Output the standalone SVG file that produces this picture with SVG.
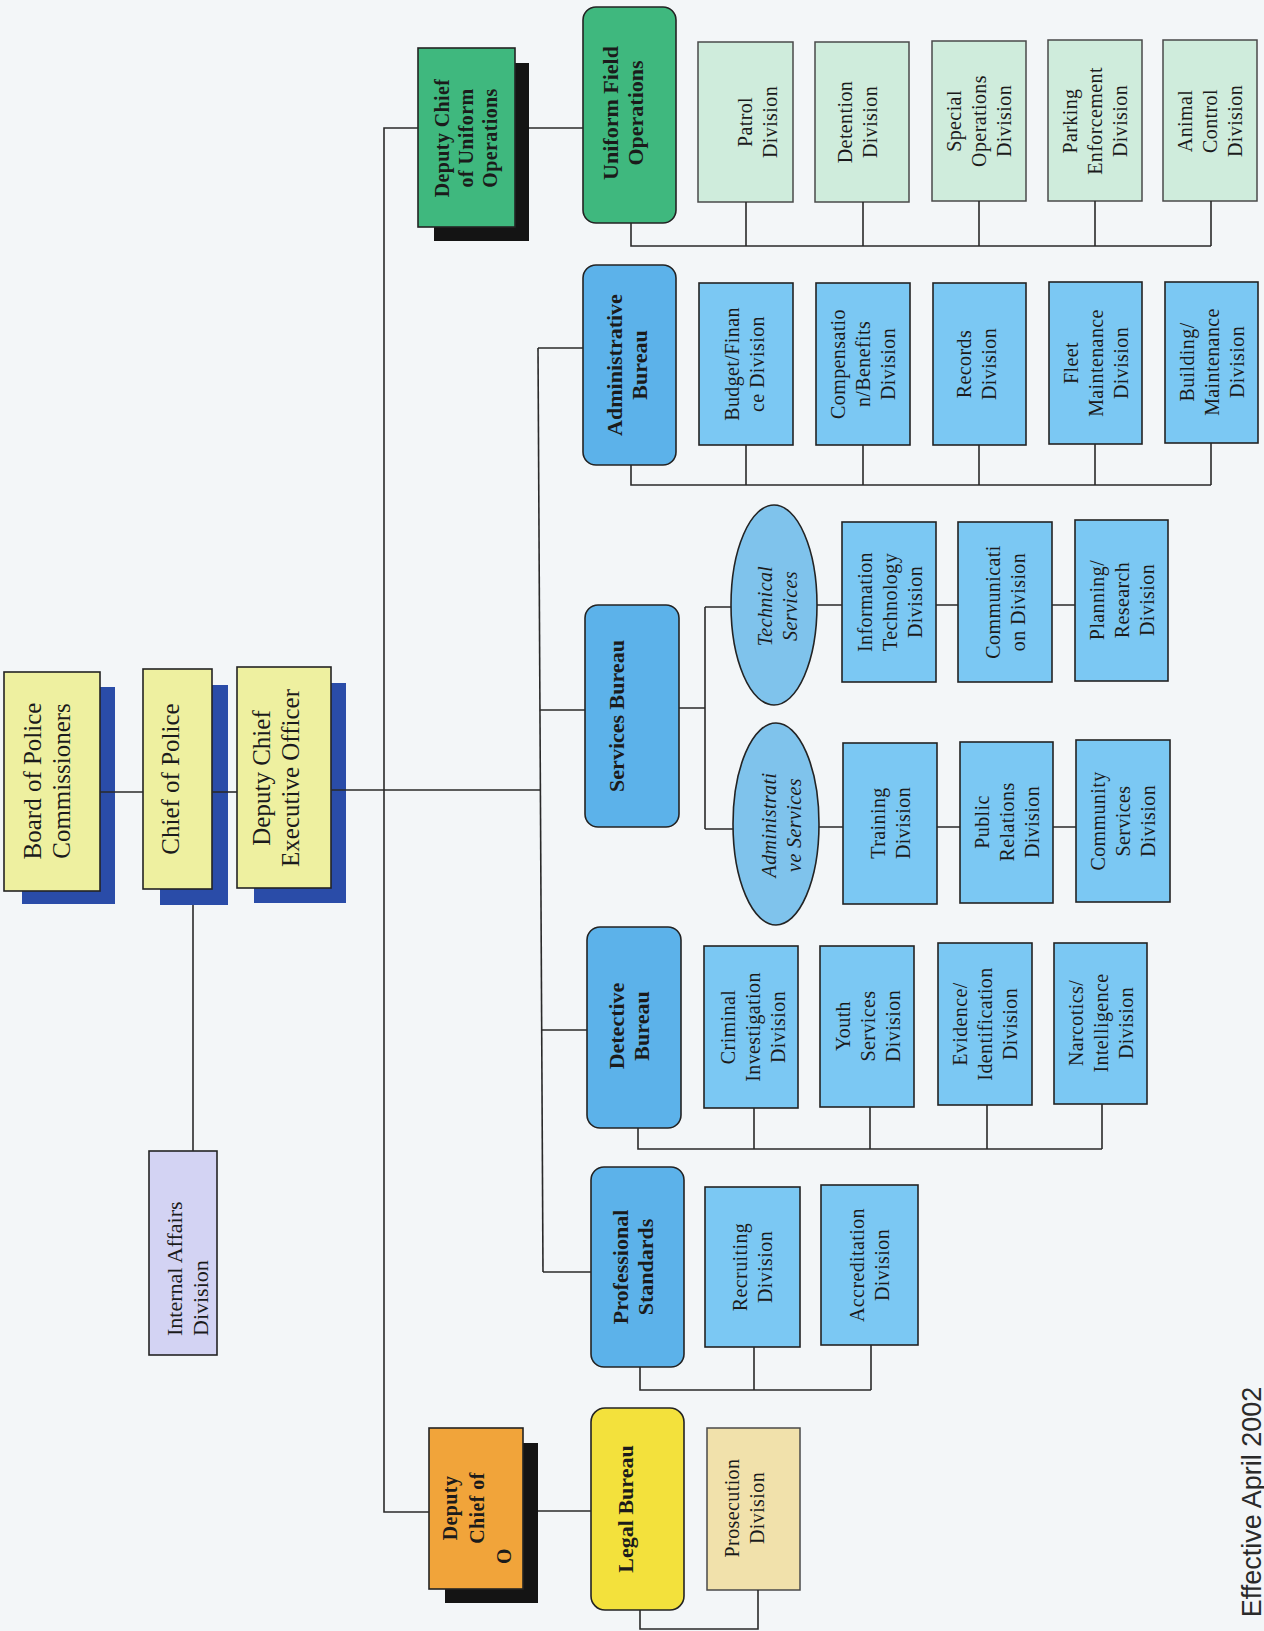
<svg xmlns="http://www.w3.org/2000/svg" width="1264" height="1631" viewBox="0 0 1264 1631">
<style>
.ln{fill:none;stroke:#2a2a2a;stroke-width:1.6}
.bx{stroke:#232323;stroke-width:1.6}
.gx{stroke:#4a4a4a;stroke-width:1.5}
.t{font-family:"Liberation Serif","Times New Roman",serif;fill:#1b1b1b;text-anchor:middle}
.f25{font-size:25px}
.f22{font-size:22px}
.f20{font-size:20px;letter-spacing:0.4px}
.b{font-weight:bold}
.i{font-style:italic}
.yl{fill:#eef0a0}
.sh{fill:#2a4ca8}
.bk{fill:#141414}
.gr{fill:#3fb87e}
.mint{fill:#cfecdc}
.bur{fill:#5cb2ea}
.div{fill:#7bc8f3}
.ell{fill:#7fc3ec}
</style>
<rect x="0" y="0" width="1264" height="1631" fill="#f3f6f8"/>

<!-- nodes -->
<g id="board">
<rect class="sh" x="22" y="687" width="93" height="217"/>
<rect class="bx yl" x="4" y="672" width="96" height="219"/>
<text class="t f25" transform="translate(47 781) rotate(-90)"><tspan x="0" y="-5.75">Board of Police</tspan><tspan x="0" y="23.25">Commissioners</tspan></text>
</g>
<g id="chief">
<rect class="sh" x="160" y="685" width="68" height="220"/>
<rect class="bx yl" x="143" y="669" width="69" height="220"/>
<text class="t f25" transform="translate(179 779) rotate(-90)"><tspan x="0" y="0">Chief of Police</tspan></text>
</g>
<g id="dceo">
<rect class="sh" x="254" y="683" width="92" height="220"/>
<rect class="bx yl" x="237" y="667" width="94" height="221"/>
<text class="t f25" transform="translate(276 778) rotate(-90)"><tspan x="0" y="-5.75">Deputy Chief</tspan><tspan x="0" y="23.25">Executive Officer</tspan></text>
</g>
<g id="internal-affairs">
<rect class="bx" x="149" y="1151" width="68" height="204" fill="#d3d3f3"/>
<text class="t f22" style="text-anchor:start" transform="translate(187 1336) rotate(-90)"><tspan x="0" y="-5.3">Internal Affairs</tspan><tspan x="0" y="20.7">Division</tspan></text>
</g>

<g id="dcuo">
<rect class="bk" x="434" y="63" width="95" height="178"/>
<rect class="bx gr" x="418" y="48" width="97" height="179"/>
<text class="t f20 b" transform="translate(466 138) rotate(-90)"><tspan x="0" y="-17">Deputy Chief</tspan><tspan x="0" y="7">of Uniform</tspan><tspan x="0" y="31">Operations</tspan></text>
</g>
<g id="ufo">
<rect class="bx gr" x="583" y="7" width="93" height="216" rx="13"/>
<text class="t f22 b" transform="translate(623 113) rotate(-90)"><tspan x="0" y="-4.8">Uniform Field</tspan><tspan x="0" y="20.2">Operations</tspan></text>
</g>
<g id="patrol">
<rect class="gx mint" x="698" y="42" width="95" height="160"/>
<text class="t f20" transform="translate(757 122) rotate(-90)"><tspan x="0" y="-5.5">Patrol</tspan><tspan x="0" y="19.5">Division</tspan></text>
</g>
<g id="detention">
<rect class="gx mint" x="815" y="42" width="94" height="160"/>
<text class="t f20" transform="translate(857 122) rotate(-90)"><tspan x="0" y="-5.5">Detention</tspan><tspan x="0" y="19.5">Division</tspan></text>
</g>
<g id="special-ops">
<rect class="gx mint" x="932" y="41" width="94" height="160"/>
<text class="t f20" transform="translate(979 121) rotate(-90)"><tspan x="0" y="-18">Special</tspan><tspan x="0" y="7">Operations</tspan><tspan x="0" y="32">Division</tspan></text>
</g>
<g id="parking">
<rect class="gx mint" x="1048" y="40" width="94" height="161"/>
<text class="t f20" transform="translate(1095 121) rotate(-90)"><tspan x="0" y="-18">Parking</tspan><tspan x="0" y="7">Enforcement</tspan><tspan x="0" y="32">Division</tspan></text>
</g>
<g id="animal">
<rect class="gx mint" x="1163" y="40" width="94" height="161"/>
<text class="t f20" transform="translate(1210 121) rotate(-90)"><tspan x="0" y="-18">Animal</tspan><tspan x="0" y="7">Control</tspan><tspan x="0" y="32">Division</tspan></text>
</g>

<g id="admin-bureau">
<rect class="bx bur" x="583" y="265" width="93" height="200" rx="13"/>
<text class="t f22 b" transform="translate(627 365) rotate(-90)"><tspan x="0" y="-4.8">Administrative</tspan><tspan x="0" y="20.2">Bureau</tspan></text>
</g>
<g id="budget">
<rect class="bx div" x="699" y="283" width="94" height="162"/>
<text class="t f20" transform="translate(744 364) rotate(-90)"><tspan x="0" y="-5.5">Budget/Finan</tspan><tspan x="0" y="19.5">ce Division</tspan></text>
</g>
<g id="compensation">
<rect class="bx div" x="816" y="283" width="94" height="162"/>
<text class="t f20" transform="translate(863 364) rotate(-90)"><tspan x="0" y="-18">Compensatio</tspan><tspan x="0" y="7">n/Benefits</tspan><tspan x="0" y="32">Division</tspan></text>
</g>
<g id="records">
<rect class="bx div" x="933" y="283" width="93" height="162"/>
<text class="t f20" transform="translate(976 364) rotate(-90)"><tspan x="0" y="-5.5">Records</tspan><tspan x="0" y="19.5">Division</tspan></text>
</g>
<g id="fleet">
<rect class="bx div" x="1049" y="282" width="93" height="162"/>
<text class="t f20" transform="translate(1096 363) rotate(-90)"><tspan x="0" y="-18">Fleet</tspan><tspan x="0" y="7">Maintenance</tspan><tspan x="0" y="32">Division</tspan></text>
</g>
<g id="building">
<rect class="bx div" x="1165" y="282" width="93" height="161"/>
<text class="t f20" transform="translate(1212 362) rotate(-90)"><tspan x="0" y="-18">Building/</tspan><tspan x="0" y="7">Maintenance</tspan><tspan x="0" y="32">Division</tspan></text>
</g>

<g id="services-bureau">
<rect class="bx bur" x="585" y="605" width="94" height="222" rx="13"/>
<text class="t f22 b" transform="translate(624 716) rotate(-90)"><tspan x="0" y="0">Services Bureau</tspan></text>
</g>
<g id="technical-services">
<ellipse class="bx ell" cx="774" cy="605" rx="43" ry="100"/>
<text class="t f20 i" transform="translate(777 606) rotate(-90)"><tspan x="0" y="-5.5">Technical</tspan><tspan x="0" y="19.5">Services</tspan></text>
</g>
<g id="administrative-services">
<ellipse class="bx ell" cx="776" cy="824" rx="43" ry="101"/>
<text class="t f20 i" transform="translate(781 825) rotate(-90)"><tspan x="0" y="-5.5">Administrati</tspan><tspan x="0" y="19.5">ve Services</tspan></text>
</g>
<g id="it">
<rect class="bx div" x="842" y="522" width="94" height="160"/>
<text class="t f20" transform="translate(890 602) rotate(-90)"><tspan x="0" y="-18">Information</tspan><tspan x="0" y="7">Technology</tspan><tspan x="0" y="32">Division</tspan></text>
</g>
<g id="communications">
<rect class="bx div" x="958" y="522" width="94" height="160"/>
<text class="t f20" transform="translate(1005 602) rotate(-90)"><tspan x="0" y="-5.5">Communicati</tspan><tspan x="0" y="19.5">on Division</tspan></text>
</g>
<g id="planning">
<rect class="bx div" x="1075" y="520" width="93" height="161"/>
<text class="t f20" transform="translate(1122 600) rotate(-90)"><tspan x="0" y="-18">Planning/</tspan><tspan x="0" y="7">Research</tspan><tspan x="0" y="32">Division</tspan></text>
</g>
<g id="training">
<rect class="bx div" x="843" y="743" width="94" height="161"/>
<text class="t f20" transform="translate(890 823) rotate(-90)"><tspan x="0" y="-5.5">Training</tspan><tspan x="0" y="19.5">Division</tspan></text>
</g>
<g id="public-relations">
<rect class="bx div" x="960" y="742" width="93" height="161"/>
<text class="t f20" transform="translate(1007 822) rotate(-90)"><tspan x="0" y="-18">Public</tspan><tspan x="0" y="7">Relations</tspan><tspan x="0" y="32">Division</tspan></text>
</g>
<g id="community-services">
<rect class="bx div" x="1076" y="740" width="94" height="162"/>
<text class="t f20" transform="translate(1123 821) rotate(-90)"><tspan x="0" y="-18">Community</tspan><tspan x="0" y="7">Services</tspan><tspan x="0" y="32">Division</tspan></text>
</g>

<g id="detective-bureau">
<rect class="bx bur" x="587" y="927" width="94" height="201" rx="13"/>
<text class="t f22 b" transform="translate(629 1026) rotate(-90)"><tspan x="0" y="-4.8">Detective</tspan><tspan x="0" y="20.2">Bureau</tspan></text>
</g>
<g id="criminal">
<rect class="bx div" x="704" y="946" width="94" height="162"/>
<text class="t f20" transform="translate(753 1027) rotate(-90)"><tspan x="0" y="-18">Criminal</tspan><tspan x="0" y="7">Investigation</tspan><tspan x="0" y="32">Division</tspan></text>
</g>
<g id="youth">
<rect class="bx div" x="820" y="946" width="94" height="161"/>
<text class="t f20" transform="translate(868 1026) rotate(-90)"><tspan x="0" y="-18">Youth</tspan><tspan x="0" y="7">Services</tspan><tspan x="0" y="32">Division</tspan></text>
</g>
<g id="evidence">
<rect class="bx div" x="938" y="943" width="94" height="162"/>
<text class="t f20" transform="translate(985 1024) rotate(-90)"><tspan x="0" y="-18">Evidence/</tspan><tspan x="0" y="7">Identification</tspan><tspan x="0" y="32">Division</tspan></text>
</g>
<g id="narcotics">
<rect class="bx div" x="1054" y="943" width="93" height="161"/>
<text class="t f20" transform="translate(1101 1023) rotate(-90)"><tspan x="0" y="-18">Narcotics/</tspan><tspan x="0" y="7">Intelligence</tspan><tspan x="0" y="32">Division</tspan></text>
</g>

<g id="professional-standards">
<rect class="bx bur" x="591" y="1167" width="93" height="200" rx="13"/>
<text class="t f22 b" transform="translate(633 1267) rotate(-90)"><tspan x="0" y="-4.8">Professional</tspan><tspan x="0" y="20.2">Standards</tspan></text>
</g>
<g id="recruiting">
<rect class="bx div" x="705" y="1187" width="95" height="160"/>
<text class="t f20" transform="translate(752 1267) rotate(-90)"><tspan x="0" y="-5.5">Recruiting</tspan><tspan x="0" y="19.5">Division</tspan></text>
</g>
<g id="accreditation">
<rect class="bx div" x="821" y="1185" width="97" height="160"/>
<text class="t f20" transform="translate(869 1265) rotate(-90)"><tspan x="0" y="-5.5">Accreditation</tspan><tspan x="0" y="19.5">Division</tspan></text>
</g>

<g id="dco">
<rect class="bk" x="445" y="1443" width="93" height="160"/>
<rect class="bx" x="429" y="1428" width="94" height="161" fill="#f1a43a"/>
<text class="t f20 b" transform="translate(477 1508) rotate(-90)"><tspan x="0" y="-20">Deputy</tspan><tspan x="0" y="7">Chief of</tspan><tspan x="-48" y="34">O</tspan></text>
</g>
<g id="legal-bureau">
<rect class="bx" x="591" y="1408" width="93" height="202" rx="14" fill="#f3e13c"/>
<text class="t f22 b" transform="translate(633 1509) rotate(-90)"><tspan x="0" y="0">Legal Bureau</tspan></text>
</g>
<g id="prosecution">
<rect class="gx" x="707" y="1428" width="93" height="162" fill="#f1e1ab"/>
<text class="t f20" transform="translate(744 1508) rotate(-90)"><tspan x="0" y="-5.5">Prosecution</tspan><tspan x="0" y="19.5">Division</tspan></text>
</g>

<!-- connectors -->
<g id="connectors" class="ln">
<path d="M100,792 H143"/>
<path d="M212,792 H237"/>
<path d="M331,790 H540"/>
<path d="M193,905 V1151"/>
<path d="M418,128 H384 V1512 H429"/>
<path d="M529,128 H583"/>
<path d="M538,348 L543,1272"/>
<path d="M538,348 H583"/>
<path d="M540,710 H585"/>
<path d="M541.7,1030 H587"/>
<path d="M543,1272 H591"/>
<path d="M631,223 V246 H1211"/>
<path d="M746,202 V246 M863,202 V246 M979,201 V246 M1095,201 V246 M1211,201 V246"/>
<path d="M631,465 V485 H1211"/>
<path d="M746,445 V485 M863,445 V485 M979,445 V485 M1095,444 V485 M1211,443 V485"/>
<path d="M679,708 H705 M705,607 V829 M705,607 H731 M705,829 H733"/>
<path d="M817,605 H842 M936,605 H958 M1052,605 H1075"/>
<path d="M819,827 H843 M937,827 H960 M1053,827 H1076"/>
<path d="M638,1128 V1149 H1102"/>
<path d="M754,1108 V1149 M870,1107 V1149 M987,1105 V1149 M1102,1104 V1149"/>
<path d="M640,1367 V1390 H871"/>
<path d="M754,1347 V1390 M871,1345 V1390"/>
<path d="M538,1511 H591"/>
<path d="M640,1610 V1629 H758 V1590"/>
</g>

<text transform="translate(1261 1502) rotate(-90)" style="font-family:'Liberation Sans',Arial,sans-serif;font-size:27px;fill:#2a2a2a;text-anchor:middle">Effective April 2002</text>
</svg>
